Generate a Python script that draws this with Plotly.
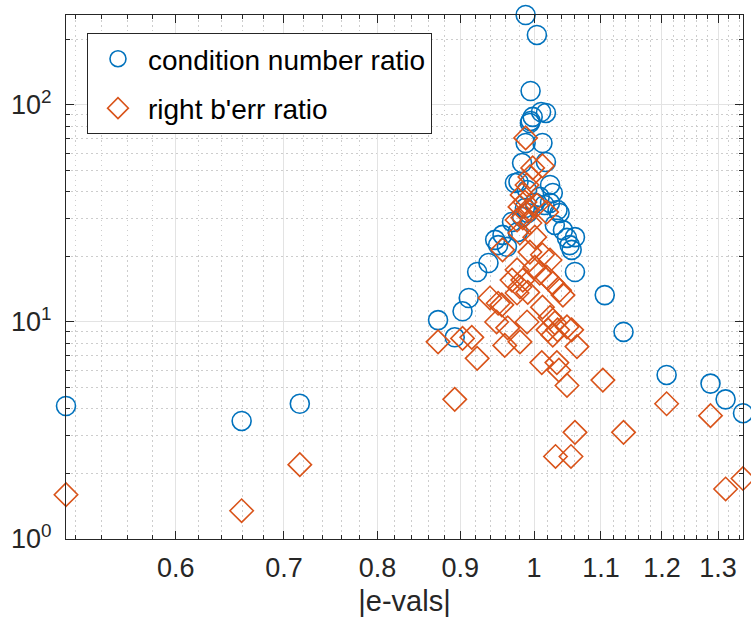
import numpy as np
import plotly.graph_objects as go

# |e-vals| and condition number ratio per eigenvalue
cond_x = [0.513, 0.659, 0.716, 0.872, 0.893, 0.903, 0.911, 0.922, 0.937, 0.946,
          0.950, 0.956, 0.962, 0.969, 0.973, 0.978, 0.983, 0.983, 0.987, 0.988,
          0.988, 0.990, 0.994, 0.995, 0.995, 0.998, 1.001, 1.004, 1.008, 1.010,
          1.012, 1.017, 1.017, 1.023, 1.027, 1.023, 1.034, 1.030, 1.042, 1.048,
          1.052, 1.060, 1.055, 1.060, 1.037, 1.106, 1.136, 1.208, 1.286, 1.314,
          1.347, 1.015, 0.977, 0.991]
cond_y = [4.1, 3.5, 4.2, 10.2, 8.5, 11.2, 12.9, 17.0, 18.7, 23.9,
          22.6, 25.2, 22.2, 28.9, 43.7, 44.2, 30.5, 54.0, 33.5, 259.8,
          66.8, 40.6, 82.6, 116.0, 84.4, 88.1, 35.4, 210.2, 37.7, 92.8,
          66.8, 91.9, 54.6, 42.8, 39.3, 35.4, 32.8, 28.0, 26.5, 24.4,
          22.6, 24.6, 21.5, 17.0, 31.8, 13.3, 9.0, 5.7, 5.2, 4.4,
          3.8, 34.6, 26.0, 31.8]

# |e-vals| and right backward error ratio
berr_x = [0.513, 0.659, 0.716, 0.872, 0.893, 0.903, 0.915, 0.922, 0.939, 0.950,
          0.948, 0.955, 0.956, 0.959, 0.963, 0.969, 0.976, 0.976, 0.980, 0.980,
          0.984, 0.990, 0.991, 1.001, 1.008, 1.012, 1.018, 1.020, 1.023, 1.027,
          1.027, 1.030, 1.034, 1.037, 1.042, 1.048, 1.055, 1.063, 1.011, 1.033,
          1.036, 1.048, 1.060, 1.031, 1.054, 1.103, 1.136, 1.208, 1.286, 1.314,
          1.347, 0.990, 0.983, 0.987, 0.980, 0.991, 1.004, 1.018, 0.976, 0.984,
          0.994, 0.980, 1.001, 0.994, 1.012, 1.023, 0.988, 0.998, 1.012, 0.994]
berr_y = [1.6, 1.35, 2.2, 8.1, 4.4, 8.4, 8.5, 6.8, 12.9, 12.2,
          10.0, 12.0, 21.5, 7.8, 9.4, 15.6, 13.6, 17.4, 14.5, 8.1,
          15.6, 10.0, 13.7, 17.9, 16.8, 11.7, 16.1, 9.2, 10.5, 15.1,
          8.7, 9.9, 9.2, 14.0, 13.3, 9.5, 9.2, 7.7, 6.5, 6.5,
          6.0, 5.1, 3.1, 2.4, 2.4, 5.4, 3.1, 4.2, 3.7, 1.7,
          1.9, 42.8, 38.5, 35.7, 33.9, 32.8, 34.6, 32.1, 29.5, 30.2,
          28.6, 25.7, 24.6, 21.0, 20.4, 19.3, 70.5, 51.3, 52.4, 46.6]

# axis ticks
x_ticks = [0.6, 0.7, 0.8, 0.9, 1.0, 1.1, 1.2, 1.3]
x_tick_text = ["0.6", "0.7", "0.8", "0.9", "1", "1.1", "1.2", "1.3"]
x_minor = [0.52, 0.54, 0.56, 0.58, 0.62, 0.64, 0.66, 0.68, 0.72, 0.74, 0.76,
           0.78, 0.82, 0.84, 0.86, 0.88, 0.92, 0.94, 0.96, 0.98, 1.02, 1.04,
           1.06, 1.08, 1.12, 1.14, 1.16, 1.18, 1.22, 1.24, 1.26, 1.28, 1.32, 1.34]
y_ticks = [1, 10, 100]
y_tick_text = ["10<sup>0</sup>", "10<sup>1</sup>", "10<sup>2</sup>"]
y_minor = [2, 3, 4, 5, 6, 7, 8, 9, 20, 30, 40, 50, 60, 70, 80, 90, 200]

BLUE = "#0072BD"
ORANGE = "#D95319"
AX = "#262626"
FONT = "Liberation Sans, Arial, sans-serif"

fig = go.Figure()
fig.add_trace(go.Scatter(
    x=cond_x, y=cond_y, mode="markers", name="condition number ratio",
    legendgroup="a", cliponaxis=False,
    marker=dict(symbol="circle-open", size=19, color=BLUE,
                line=dict(width=1.6, color=BLUE)),
))
fig.add_trace(go.Scatter(
    x=berr_x, y=berr_y, mode="markers", name="right b'err ratio",
    legendgroup="b", cliponaxis=False,
    marker=dict(symbol="diamond-open", size=18, color=ORANGE,
                line=dict(width=1.6, color=ORANGE)),
))

all_x = cond_x + berr_x
all_y = cond_y + berr_y

axis_common = dict(
    type="log", showline=True, linecolor=AX, linewidth=1, mirror="allticks",
    ticks="inside", ticklen=8, tickcolor=AX, tickwidth=1,
    showgrid=True, gridcolor="#e3e3e3", gridwidth=1, zeroline=False,
    tickfont=dict(family=FONT, size=27, color=AX),
)
minor_common = dict(
    tickmode="array", ticks="inside", ticklen=4, tickcolor=AX,
    showgrid=True, gridcolor="#cdcdcd", griddash="1.5px,3.5px", gridwidth=1,
)

fig.update_xaxes(
    **axis_common,
    range=[np.log10(min(all_x)), np.log10(max(all_x))],
    tickmode="array", tickvals=x_ticks, ticktext=x_tick_text,
    minor=dict(tickvals=x_minor, **minor_common),
    title=dict(text="|e-vals|", font=dict(family=FONT, size=29, color=AX),
               standoff=8),
    ticklabelstandoff=5,
)
fig.update_yaxes(
    **axis_common,
    range=[0, np.log10(max(all_y))],
    tickmode="array", tickvals=y_ticks, ticktext=y_tick_text,
    minor=dict(tickvals=y_minor, **minor_common),
    ticklabelstandoff=8,
)

fig.update_layout(
    width=751, height=620,
    margin=dict(l=66, r=8, t=15, b=81, autoexpand=False),
    paper_bgcolor="white", plot_bgcolor="white",
    font=dict(family=FONT, color=AX),
    legend=dict(
        x=0.031, y=0.9656, xanchor="left", yanchor="top",
        bgcolor="white", bordercolor=AX, borderwidth=1,
        font=dict(family=FONT, size=28, color="black"),
        itemwidth=50, tracegroupgap=10,
    ),
)

fig.write_html("out.html")
